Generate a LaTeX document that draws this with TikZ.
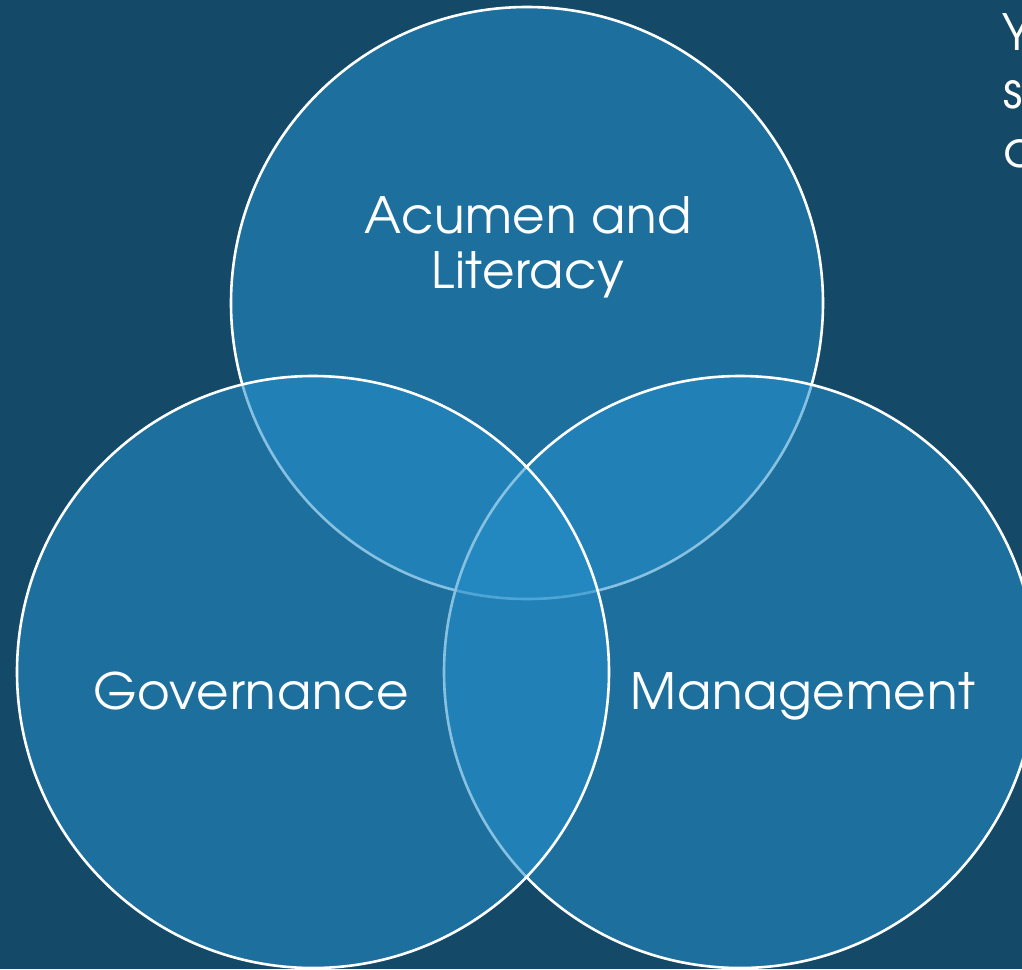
\documentclass[tikz,border=0pt]{standalone}
\usepackage{fontspec}
\setmainfont{texgyreadventor-regular.otf}[LetterSpace=1.5]
\definecolor{bgc}{RGB}{20,74,104}
\definecolor{fillc}{RGB}{38,143,202}
\tikzset{
  venn/.style={circle, minimum size=592pt, inner sep=0pt, fill=fillc, fill opacity=0.55, draw=white, draw opacity=1, line width=2.6pt},
  lbl/.style={text=white, font=\fontsize{50}{55}\selectfont, anchor=base, inner sep=0pt},
  side/.style={text=white, font=\fontsize{50}{55}\selectfont, anchor=base west, inner sep=0pt}
}
\begin{document}
\begin{tikzpicture}[x=1pt,y=-1pt]
\fill[bgc] (0,0) rectangle (1022,969);
\useasboundingbox (0,0) rectangle (1022,969);
\clip (0,0) rectangle (1022,969);
\node[venn] (top) at (527,303) {};
\node[venn] (right) at (740,672) {};
\node[venn] (left) at (313,672) {};
\node[lbl] (tl1) at (528,233) {Acumen and};
\node[lbl] (tl2) at (528,288) {Literacy};
\node[lbl] (gl) at (251,709) {Governance};
\node[lbl] (ml) at (803,709) {Management};
\node[side] (s1) at (1002,50) {Y};
\node[side] (s2) at (1003,108) {s};
\node[side] (s3) at (1003,167) {a};
\end{tikzpicture}
\end{document}
